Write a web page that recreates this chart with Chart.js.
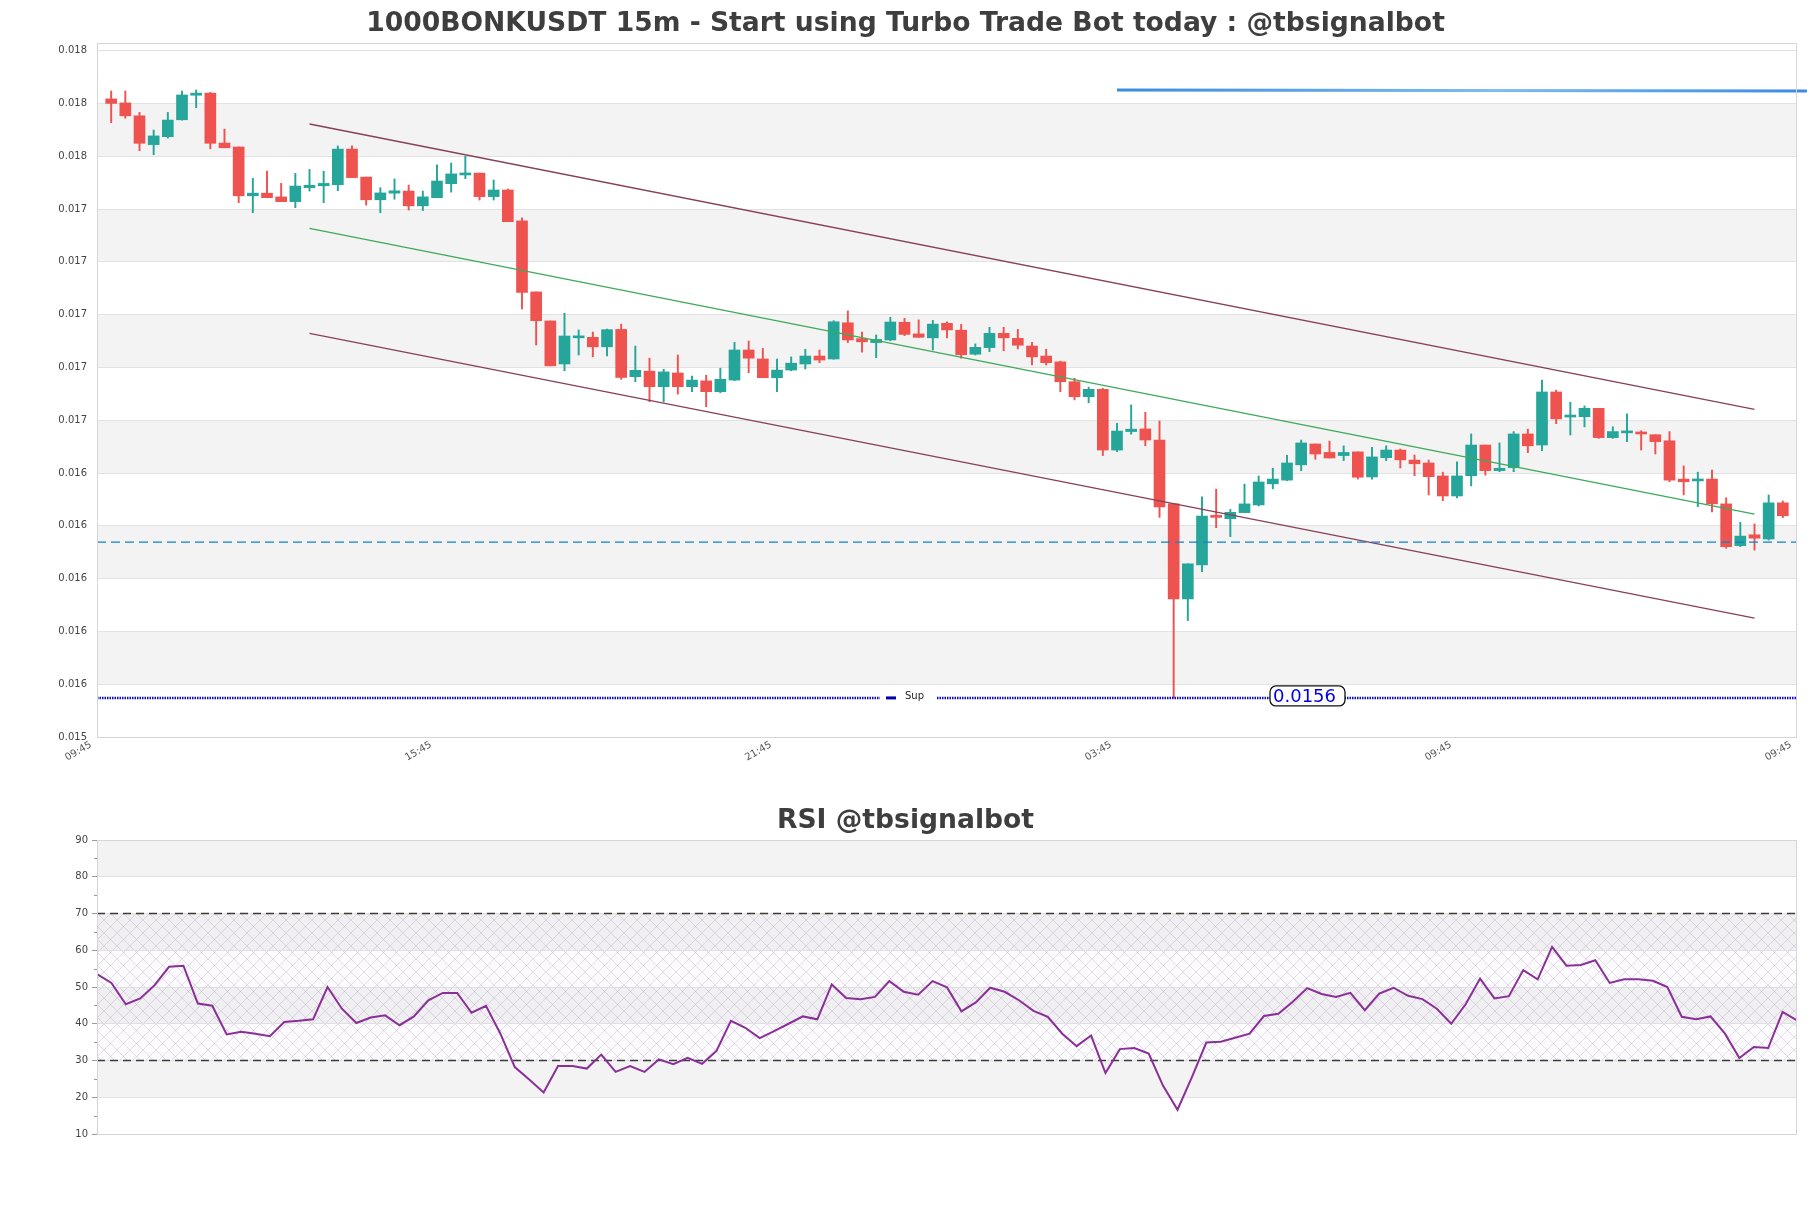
<!DOCTYPE html>
<html>
<head>
<meta charset="utf-8">
<script src="https://cdn.jsdelivr.net/npm/chart.js@4.4.1/dist/chart.umd.min.js"></script>
<style>
  html, body { margin: 0; padding: 0; background: #fff; }
  body { width: 1811px; height: 1208px; position: relative; overflow: hidden; }
  #price-chart { position: absolute; left: 0; top: 0; }
  #rsi-chart { position: absolute; left: 0; top: 790px; }
</style>
</head>
<body>
<canvas id="price-chart" width="1811" height="790"></canvas>
<canvas id="rsi-chart" width="1811" height="418"></canvas>
<script>
const TITLE = '1000BONKUSDT 15m - Start using Turbo Trade Bot today : @tbsignalbot';
const RSI_TITLE = 'RSI @tbsignalbot';

// x axis (candle index) ticks
const timeLabels = ['09:45', '15:45', '21:45', '03:45', '09:45', '09:45'];
const timeTickIdx = [-1, 23, 47, 71, 95, 119];
const priceTicks = [0.01541, 0.01561, 0.01581, 0.01601, 0.01621, 0.01641, 0.01661,
  0.01681, 0.01701, 0.01721, 0.01741, 0.01761, 0.01781, 0.01801];
const rsiTicks = [10, 20, 30, 40, 50, 60, 70, 80, 90];

// 15m candles
const opens = [
  0.017827, 0.017812, 0.017763, 0.017654, 0.017684, 0.017748, 0.017841, 0.017849, 0.017660, 0.017645,
  0.017460, 0.017470, 0.017456, 0.017438, 0.017491, 0.017498, 0.017502, 0.017637, 0.017531, 0.017445,
  0.017470, 0.017478, 0.017422, 0.017453, 0.017506, 0.017539, 0.017546, 0.017457, 0.017482, 0.017365,
  0.017096, 0.016986, 0.016823, 0.016922, 0.016924, 0.016888, 0.016954, 0.016775, 0.016796, 0.016737,
  0.016789, 0.016737, 0.016759, 0.016718, 0.016762, 0.016876, 0.016842, 0.016771, 0.016800, 0.016823,
  0.016853, 0.016842, 0.016979, 0.016919, 0.016904, 0.016914, 0.016981, 0.016937, 0.016922, 0.016977,
  0.016951, 0.016860, 0.016885, 0.016939, 0.016920, 0.016891, 0.016853, 0.016831, 0.016756, 0.016699,
  0.016727, 0.016497, 0.016567, 0.016577, 0.016535, 0.016293, 0.015933, 0.016062, 0.016248, 0.016237,
  0.016260, 0.016289, 0.016369, 0.016383, 0.016441, 0.016520, 0.016488, 0.016476, 0.016490, 0.016395,
  0.016468, 0.016497, 0.016459, 0.016448, 0.016399, 0.016323, 0.016400, 0.016516, 0.016419, 0.016430,
  0.016558, 0.016516, 0.016717, 0.016622, 0.016623, 0.016655, 0.016544, 0.016562, 0.016565, 0.016555,
  0.016532, 0.016387, 0.016380, 0.016387, 0.016293, 0.016135, 0.016176, 0.016160, 0.016297
];
const highs = [
  0.017857, 0.017857, 0.017776, 0.017709, 0.017776, 0.017857, 0.017861, 0.017852, 0.017713, 0.017645,
  0.017526, 0.017554, 0.017507, 0.017545, 0.017560, 0.017553, 0.017649, 0.017649, 0.017531, 0.017491,
  0.017524, 0.017501, 0.017478, 0.017577, 0.017584, 0.017610, 0.017546, 0.017520, 0.017486, 0.017377,
  0.017096, 0.016986, 0.017015, 0.016952, 0.016944, 0.016955, 0.016974, 0.016891, 0.016845, 0.016803,
  0.016857, 0.016777, 0.016780, 0.016807, 0.016905, 0.016910, 0.016882, 0.016842, 0.016850, 0.016879,
  0.016876, 0.016987, 0.017024, 0.016944, 0.016933, 0.017000, 0.016996, 0.016990, 0.016988, 0.016983,
  0.016973, 0.016899, 0.016962, 0.016962, 0.016954, 0.016905, 0.016879, 0.016834, 0.016769, 0.016735,
  0.016731, 0.016598, 0.016668, 0.016640, 0.016607, 0.016293, 0.016066, 0.016320, 0.016349, 0.016272,
  0.016368, 0.016399, 0.016428, 0.016477, 0.016535, 0.016520, 0.016531, 0.016513, 0.016490, 0.016507,
  0.016513, 0.016501, 0.016478, 0.016459, 0.016413, 0.016452, 0.016558, 0.016516, 0.016524, 0.016567,
  0.016576, 0.016762, 0.016724, 0.016678, 0.016664, 0.016655, 0.016585, 0.016634, 0.016570, 0.016555,
  0.016567, 0.016437, 0.016413, 0.016421, 0.016316, 0.016223, 0.016217, 0.016327, 0.016304
];
const lows = [
  0.017737, 0.017754, 0.017631, 0.017616, 0.017679, 0.017747, 0.017794, 0.017638, 0.017642, 0.017434,
  0.017396, 0.017453, 0.017438, 0.017415, 0.017478, 0.017434, 0.017479, 0.017529, 0.017425, 0.017396,
  0.017447, 0.017406, 0.017404, 0.017453, 0.017474, 0.017525, 0.017444, 0.017444, 0.017362, 0.017032,
  0.016895, 0.016816, 0.016797, 0.016857, 0.016850, 0.016854, 0.016765, 0.016756, 0.016680, 0.016680,
  0.016709, 0.016718, 0.016661, 0.016714, 0.016760, 0.016790, 0.016771, 0.016718, 0.016797, 0.016804,
  0.016828, 0.016841, 0.016904, 0.016868, 0.016847, 0.016911, 0.016930, 0.016924, 0.016876, 0.016922,
  0.016845, 0.016857, 0.016870, 0.016873, 0.016880, 0.016819, 0.016819, 0.016718, 0.016687, 0.016676,
  0.016476, 0.016491, 0.016557, 0.016513, 0.016242, 0.015558, 0.015851, 0.016036, 0.016203, 0.016169,
  0.016260, 0.016285, 0.016350, 0.016381, 0.016419, 0.016462, 0.016467, 0.016457, 0.016387, 0.016387,
  0.016457, 0.016429, 0.016400, 0.016327, 0.016305, 0.016316, 0.016361, 0.016402, 0.016415, 0.016415,
  0.016487, 0.016495, 0.016597, 0.016554, 0.016585, 0.016541, 0.016541, 0.016529, 0.016497, 0.016482,
  0.016377, 0.016327, 0.016282, 0.016263, 0.016125, 0.016131, 0.016118, 0.016156, 0.016241
];
const closes = [
  0.017810, 0.017763, 0.017659, 0.017687, 0.017747, 0.017842, 0.017849, 0.017659, 0.017642, 0.017460,
  0.017470, 0.017453, 0.017438, 0.017497, 0.017500, 0.017507, 0.017637, 0.017529, 0.017445, 0.017471,
  0.017479, 0.017422, 0.017456, 0.017516, 0.017543, 0.017546, 0.017457, 0.017482, 0.017362, 0.017094,
  0.016987, 0.016816, 0.016929, 0.016929, 0.016888, 0.016953, 0.016772, 0.016799, 0.016737, 0.016793,
  0.016737, 0.016762, 0.016718, 0.016765, 0.016876, 0.016845, 0.016771, 0.016800, 0.016826, 0.016853,
  0.016838, 0.016983, 0.016914, 0.016907, 0.016916, 0.016982, 0.016935, 0.016924, 0.016974, 0.016952,
  0.016858, 0.016886, 0.016939, 0.016922, 0.016894, 0.016850, 0.016828, 0.016756, 0.016699, 0.016727,
  0.016497, 0.016569, 0.016576, 0.016535, 0.016282, 0.015933, 0.016066, 0.016247, 0.016242, 0.016261,
  0.016293, 0.016376, 0.016387, 0.016448, 0.016524, 0.016482, 0.016467, 0.016488, 0.016394, 0.016471,
  0.016497, 0.016460, 0.016445, 0.016396, 0.016323, 0.016399, 0.016516, 0.016419, 0.016428, 0.016558,
  0.016513, 0.016717, 0.016615, 0.016626, 0.016655, 0.016544, 0.016567, 0.016567, 0.016558, 0.016529,
  0.016383, 0.016377, 0.016387, 0.016293, 0.016131, 0.016171, 0.016163, 0.016297, 0.016248
];

const rsi = [
  53.5, 51.1, 45.3, 46.9, 50.5, 55.5, 55.8, 45.5, 44.9, 37.1,
  37.8, 37.3, 36.6, 40.5, 40.8, 41.2, 50.0, 44.1, 40.2, 41.7,
  42.3, 39.6, 42.0, 46.4, 48.4, 48.4, 43.0, 44.9, 37.3, 28.2,
  24.8, 21.3, 28.5, 28.5, 27.8, 31.6, 26.9, 28.5, 26.9, 30.3,
  29.0, 30.7, 29.1, 32.6, 40.8, 38.9, 36.1, 38.0, 40.0, 42.0,
  41.2, 50.7, 47.0, 46.7, 47.3, 51.6, 48.7, 47.9, 51.6, 49.9,
  43.4, 45.8, 49.8, 48.7, 46.4, 43.5, 41.9, 37.3, 33.9, 36.8,
  26.6, 33.1, 33.4, 31.9, 23.1, 16.6, 25.5, 34.9, 35.1, 36.2,
  37.3, 42.1, 42.7, 46.0, 49.7, 48.1, 47.3, 48.4, 43.7, 48.2,
  49.8, 47.6, 46.7, 44.1, 40.0, 45.3, 52.3, 46.9, 47.5, 54.6,
  52.1, 60.9, 55.8, 56.0, 57.3, 51.1, 52.1, 52.1, 51.7, 50.0,
  41.9, 41.2, 42.0, 37.3, 30.7, 33.7, 33.4, 43.2, 40.9
];
const rsiLevels = [30, 70];

// drawn levels / channel
const chanIdx = [14, 116];
const chanUpper = [0.017732, 0.016651];
const chanMid = [0.017337, 0.016254];
const chanLower = [0.016939, 0.015860];
const topLineIdx = [71, 119.7];
const topLine = [0.017861, 0.017857];
const dashLevel = 0.016148;
const supLevel = 0.015558;

const UP = '#26a69a';
const DOWN = '#ef5350';
const FONT = 'DejaVu Sans';

const candleColors = opens.map((o, i) => closes[i] >= o ? UP : DOWN);
const levelLine = (v) => [{ x: -1, y: v }, { x: 119, y: v }];

// alternating grey stripes, optional hatch, and the plot frame
const framePlugin = {
  id: 'frame',
  beforeDraw(chart, args, opts) {
    const { ctx, chartArea: a, scales: { y } } = chart;
    ctx.save();
    ctx.fillStyle = '#f3f3f3';
    for (const [lo, hi] of opts.bands) {
      const y0 = y.getPixelForValue(hi), y1 = y.getPixelForValue(lo);
      ctx.fillRect(a.left, y0, a.right - a.left, y1 - y0);
    }
    if (opts.hatch) {
      const [lo, hi] = opts.hatch;
      const y0 = y.getPixelForValue(hi), y1 = y.getPixelForValue(lo);
      ctx.fillStyle = 'rgba(120, 70, 160, 0.025)';
      ctx.fillRect(a.left, y0, a.right - a.left, y1 - y0);
      const tile = document.createElement('canvas');
      tile.width = 13; tile.height = 13;
      const t = tile.getContext('2d');
      t.strokeStyle = 'rgba(150, 125, 175, 0.36)';
      t.lineWidth = 0.7;
      t.beginPath();
      t.moveTo(0, 0); t.lineTo(13, 13);
      t.moveTo(13, 0); t.lineTo(0, 13);
      t.stroke();
      ctx.fillStyle = ctx.createPattern(tile, 'repeat');
      ctx.fillRect(a.left, y0, a.right - a.left, y1 - y0);
    }
    ctx.restore();
  },
  afterDraw(chart, args, opts) {
    const { ctx, chartArea: a, scales: { y } } = chart;
    ctx.save();
    if (opts.minorTicks) {
      ctx.strokeStyle = '#999';
      ctx.lineWidth = 1;
      ctx.beginPath();
      for (const v of opts.minorTicks) {
        const py = Math.round(y.getPixelForValue(v)) + 0.5;
        ctx.moveTo(a.left - 3, py);
        ctx.lineTo(a.left, py);
      }
      ctx.stroke();
    }
    ctx.strokeStyle = '#d6d6d6';
    ctx.lineWidth = 1;
    ctx.strokeRect(a.left + 0.5, a.top + 0.5, a.right - a.left - 1, a.bottom - a.top);
    ctx.restore();
  }
};

// "Sup" tag and price box on the support line
const supportPlugin = {
  id: 'support',
  afterDatasetsDraw(chart) {
    const { ctx, chartArea: a, scales: { y } } = chart;
    const w = a.right - a.left;
    const py = y.getPixelForValue(supLevel);
    ctx.save();
    const gx = a.left + w * 0.4606;
    ctx.fillStyle = '#fff';
    ctx.fillRect(gx, py - 4, 56, 8);
    ctx.strokeStyle = '#0000b4';
    ctx.lineWidth = 3;
    ctx.beginPath();
    ctx.moveTo(gx + 6, py); ctx.lineTo(gx + 16, py);
    ctx.stroke();
    ctx.fillStyle = '#222';
    ctx.font = '10px "' + FONT + '"';
    ctx.textBaseline = 'middle';
    ctx.fillText('Sup', gx + 25, py - 2);

    const bx = a.left + w * 0.69;
    ctx.beginPath();
    ctx.roundRect(bx, py - 12, 75, 20, 6);
    ctx.fillStyle = '#fff';
    ctx.fill();
    ctx.strokeStyle = '#111';
    ctx.lineWidth = 1.3;
    ctx.stroke();
    ctx.fillStyle = '#0000e6';
    ctx.font = '18px "' + FONT + '"';
    ctx.fillText(supLevel.toFixed(4), bx + 3, py - 1);
    ctx.restore();
  }
};

const priceBands = [];
for (let i = 1; i < priceTicks.length - 1; i += 2) priceBands.push([priceTicks[i], priceTicks[i + 1]]);

new Chart(document.getElementById('price-chart'), {
  type: 'bar',
  data: {
    datasets: [
      {
        type: 'line',
        data: topLineIdx.map((x, i) => ({ x, y: topLine[i] })),
        borderColor: (c) => {
          const ch = c.chart;
          if (!ch.chartArea) return '#3b8ee0';
          const xs = ch.scales.x;
          const g = ch.ctx.createLinearGradient(xs.getPixelForValue(topLineIdx[0]), 0, xs.getPixelForValue(topLineIdx[1]), 0);
          g.addColorStop(0, '#3a8be0');
          g.addColorStop(0.55, '#7dbdf2');
          g.addColorStop(1, '#3a8be0');
          return g;
        },
        borderWidth: 3,
        pointRadius: 0,
        clip: false,
        order: 0
      },
      {
        type: 'line',
        data: levelLine(supLevel),
        borderColor: '#0a0ac4',
        borderWidth: 2.5,
        borderDash: [1.5, 1],
        pointRadius: 0,
        order: 1
      },
      {
        type: 'line',
        data: levelLine(dashLevel),
        borderColor: '#1580cc',
        borderWidth: 1.3,
        borderDash: [9, 5],
        pointRadius: 0,
        order: 1
      },
      {
        type: 'line',
        data: chanIdx.map((x, i) => ({ x, y: chanUpper[i] })),
        borderColor: '#874058',
        borderWidth: 1.3,
        pointRadius: 0,
        order: 1
      },
      {
        type: 'line',
        data: chanIdx.map((x, i) => ({ x, y: chanMid[i] })),
        borderColor: '#3daa5a',
        borderWidth: 1.2,
        pointRadius: 0,
        order: 1
      },
      {
        type: 'line',
        data: chanIdx.map((x, i) => ({ x, y: chanLower[i] })),
        borderColor: '#874058',
        borderWidth: 1.3,
        pointRadius: 0,
        order: 1
      },
      {
        data: opens.map((o, i) => ({ x: i, y: [o, closes[i]] })),
        backgroundColor: candleColors,
        barThickness: 11,
        minBarLength: 2,
        grouped: false,
        order: 2
      },
      {
        data: lows.map((l, i) => ({ x: i, y: [l, highs[i]] })),
        backgroundColor: candleColors,
        barThickness: 1.3,
        grouped: false,
        order: 3
      }
    ]
  },
  options: {
    responsive: false,
    animation: false,
    events: [],
    layout: { padding: { left: 14, right: 14 } },
    plugins: {
      legend: { display: false },
      tooltip: { enabled: false },
      title: {
        display: true,
        text: TITLE,
        color: '#3e3e3e',
        font: { family: FONT, size: 26.6, weight: 'bold' },
        padding: { top: 8, bottom: 3.1 }
      },
      frame: { bands: priceBands }
    },
    scales: {
      x: {
        type: 'linear',
        min: -1,
        max: 119,
        offset: false,
        afterBuildTicks: (s) => { s.ticks = timeTickIdx.map((v) => ({ value: v })); },
        afterFit: (s) => { s.height = 53; },
        grid: { display: false, drawTicks: false, offset: false },
        border: { display: false },
        ticks: {
          autoSkip: false,
          minRotation: 30,
          maxRotation: 30,
          padding: 2,
          labelOffset: -6,
          color: '#555',
          font: { family: FONT, size: 10 },
          callback: (v, i) => timeLabels[i]
        }
      },
      y: {
        min: priceTicks[0],
        max: 0.0180388,
        afterBuildTicks: (s) => { s.ticks = priceTicks.map((v) => ({ value: v })); },
        afterFit: (s) => { s.width = 83; },
        grid: { color: '#e2e2e2', drawTicks: false },
        border: { display: false },
        ticks: {
          padding: 10,
          color: '#444',
          font: { family: FONT, size: 10 },
          callback: (v) => v.toFixed(3)
        }
      }
    }
  },
  plugins: [framePlugin, supportPlugin]
});

new Chart(document.getElementById('rsi-chart'), {
  type: 'line',
  data: {
    datasets: [
      {
        data: rsi.map((v, i) => ({ x: i, y: v })),
        borderColor: '#8a2f98',
        borderWidth: 2,
        pointRadius: 0,
        tension: 0
      },
      ...rsiLevels.map((lv) => ({
        data: [{ x: 0, y: lv }, { x: rsi.length - 1, y: lv }],
        borderColor: '#3a3a3a',
        borderWidth: 1.3,
        borderDash: [8, 5],
        pointRadius: 0
      }))
    ]
  },
  options: {
    responsive: false,
    animation: false,
    events: [],
    layout: { padding: { left: 14, right: 14 } },
    plugins: {
      legend: { display: false },
      tooltip: { enabled: false },
      title: {
        display: true,
        text: RSI_TITLE,
        color: '#3e3e3e',
        font: { family: FONT, size: 26.6, weight: 'bold' },
        padding: { top: 15.3, bottom: 2.8 }
      },
      frame: {
        bands: [[20, 30], [40, 50], [60, 70], [80, 90]],
        hatch: rsiLevels,
        minorTicks: [15, 25, 35, 45, 55, 65, 75, 85]
      }
    },
    scales: {
      x: {
        type: 'linear',
        min: 0,
        max: rsi.length - 1,
        afterFit: (s) => { s.height = 74; },
        grid: { display: false, drawTicks: false },
        border: { display: false },
        ticks: { display: false }
      },
      y: {
        min: 10,
        max: 90,
        afterBuildTicks: (s) => { s.ticks = rsiTicks.map((v) => ({ value: v })); },
        afterFit: (s) => { s.width = 83; },
        grid: { color: '#e0e0e0', tickColor: '#999', tickLength: 5 },
        border: { display: false },
        ticks: {
          padding: 4,
          color: '#444',
          font: { family: FONT, size: 10 }
        }
      }
    }
  },
  plugins: [framePlugin]
});
</script>
</body>
</html>
